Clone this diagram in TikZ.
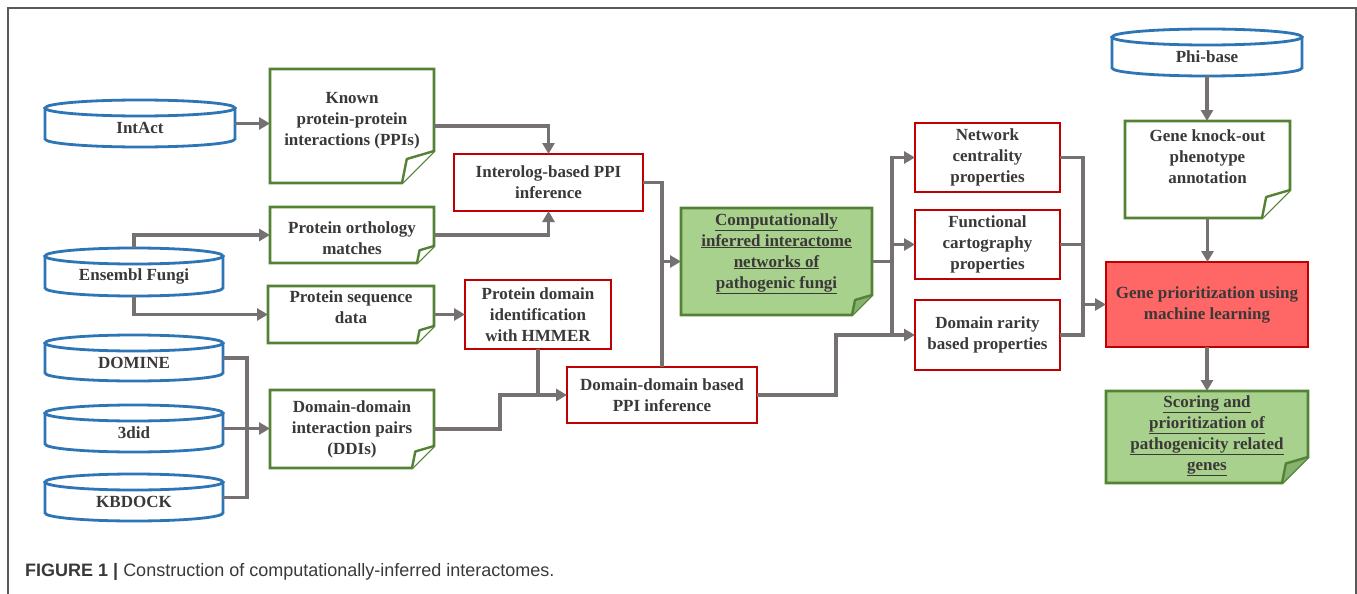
\documentclass[tikz,border=0pt]{standalone}
\usepackage{fontspec}
\setmainfont{Liberation Serif}
\setsansfont{Liberation Sans}
\usetikzlibrary{arrows.meta,calc}
\definecolor{cblue}{HTML}{2E75B6}
\definecolor{cgreen}{HTML}{548235}
\definecolor{cred}{HTML}{C00000}
\definecolor{redfill}{HTML}{FF6666}
\definecolor{greenfill}{HTML}{A9D18E}
\definecolor{foldgreen}{HTML}{86B26F}
\definecolor{cline}{HTML}{767171}
\definecolor{ctext}{HTML}{3B3838}
\definecolor{cframe}{HTML}{595959}
\tikzset{
  txt/.style={font=\bfseries\fontsize{17}{21}\selectfont, text=ctext, align=center, inner sep=0pt},
  conn/.style={draw=cline, line width=3.5pt, line join=miter},
  arr/.style={conn, -{Triangle[length=11pt,width=12pt]}},
  shp/.style={inner sep=0pt, outer sep=0pt},
}
% name x1 y1 x2 y2 fill text
\newcommand\redbox[7]{%
  \node[shp, draw=cred, fill=#6, line width=2.8pt, minimum width={#4-#2}, minimum height={#5-#3}] (#1) at ({(#2+#4)/2},{(#3+#5)/2}) {};
  \node[txt] (#1-t) at (#1) {#7};}
% name x1 y1 x2 y2 text
\newcommand\cyl[6]{%
  \node[shp, minimum width={#4-#2}, minimum height={#5-#3}] (#1) at ({(#2+#4)/2},{(#3+#5)/2}) {};
  \draw[cblue, line width=2.8pt, fill=white] (#2,#3+8) -- (#2,#5-8) arc[start angle=180, end angle=360, x radius={(#4-#2)/2*1pt}, y radius=8pt] -- (#4,#3+8);
  \draw[cblue, line width=2.8pt, fill=white] ({(#2+#4)/2},#3+8) ellipse[x radius={(#4-#2)/2*1pt}, y radius=8pt];
  \node[txt] (#1-t) at ($(#1)+(0,4.5)$) {#6};}
% name x1 y1 x2 y2 fold fill foldfill
\newcommand\notebox[8]{%
  \node[shp, minimum width={#4-#2}, minimum height={#5-#3}] (#1) at ({(#2+#4)/2},{(#3+#5)/2}) {};
  \draw[cgreen, line width=2.8pt, fill=#7] (#2,#3) -- (#4,#3) -- (#4,#5-#6) -- (#4-#6,#5) -- (#2,#5) -- cycle;
  \draw[cgreen, line width=2.4pt, fill=#8, line join=round] (#4,#5-#6) -- (#4-0.85*#6,#5-0.75*#6) -- (#4-#6,#5);}
\begin{document}
\begin{tikzpicture}[x=1pt,y=-1pt]
\useasboundingbox (0,0) rectangle (1357,594);
\draw[cframe, line width=1.2pt] (8,594) -- (8,8) -- (1356,8) -- (1356,594);

% databases
\cyl{intact}{45}{100}{235}{147}{IntAct}
\cyl{ensembl}{45}{248}{223}{296}{Ensembl Fungi}
\cyl{domine}{45}{335}{223}{381}{DOMINE}
\cyl{tdid}{45}{405}{223}{452}{3did}
\cyl{kbdock}{45}{474}{223}{521}{KBDOCK}
\cyl{phibase}{1112}{29}{1302}{76}{Phi-base}

% notes
\notebox{known}{270}{69}{434}{183}{32}{white}{white}
\node[txt] (known-t) at ($(known)+(0,-5)$) {Known\\protein-protein\\interactions (PPIs)};
\notebox{ortho}{270}{207}{434}{263}{17}{white}{white}
\node[txt] (ortho-t) at ($(ortho)+(0,3)$) {Protein orthology\\matches};
\notebox{protseq}{268}{286}{434}{343}{17}{white}{white}
\node[txt] (protseq-t) at ($(protseq)+(0,-7)$) {Protein sequence\\data};
\notebox{ddi}{270}{390}{434}{468}{22}{white}{white}
\node[txt] (ddi-t) at (ddi) {Domain-domain\\interaction pairs\\(DDIs)};
\notebox{comp}{681}{208}{872}{315}{20}{greenfill}{foldgreen}
\node[txt] (comp-t) at ($(comp)+(0,-8)$) {\underline{Computationally}\\\underline{inferred interactome}\\\underline{networks of}\\\underline{pathogenic fungi}};
\notebox{knock}{1125}{121}{1290}{218}{28}{white}{white}
\node[txt] (knock-t) at ($(knock)+(0,-12.5)$) {Gene knock-out\\phenotype\\annotation};
\notebox{scoring}{1106}{391}{1308}{483}{26}{greenfill}{foldgreen}
\node[txt] (scoring-t) at ($(scoring)+(0,-1)$) {\underline{Scoring and}\\\underline{prioritization of}\\\underline{pathogenicity related}\\\underline{genes}};

% red boxes
\redbox{interolog}{454}{154}{643}{211}{white}{Interolog-based PPI\\inference}
\redbox{hmmer}{465}{280}{611}{349}{white}{Protein domain\\identification\\with HMMER}
\redbox{ddppi}{567}{367}{757}{423}{white}{Domain-domain based\\PPI inference}
\redbox{network}{915}{123}{1060}{192}{white}{Network\\centrality\\properties}
\redbox{funct}{915}{210}{1060}{279}{white}{Functional\\cartography\\properties}
\redbox{rarity}{915}{300}{1060}{370}{white}{Domain rarity\\based properties}
\redbox{gene}{1106}{262}{1308}{347}{redfill}{Gene prioritization using\\machine learning}

% junction coordinates
\coordinate (j1) at (247,0);
\coordinate (j2) at (500,0);
\coordinate (j3) at (892,0);
\coordinate (j4) at (836,0);
\coordinate (j5) at (1083,0);

% connectors
\draw[arr] (intact.east) -- (intact.east -| known.west);
\draw[arr] (known.east) -| (interolog.north);
\draw[arr] (ortho.east) -| (interolog.south);
\draw[arr] (ensembl.north) |- (ortho.west);
\draw[arr] (ensembl.south) |- (protseq.west);
\draw[arr] (protseq.east) -- (protseq.east -| hmmer.west);
\draw[conn] (domine.east) -| (j1 |- kbdock.east) -- (kbdock.east);
\draw[arr] (tdid.east) -- (tdid.east -| ddi.west);
\draw[arr] (ddi.east) -| (j2 |- ddppi.west) -- (ddppi.west);
\draw[conn] (hmmer.south) -- (hmmer.south |- ddppi.west);
\draw[conn] (interolog.east) -| (ddppi.north);
\draw[arr] (ddppi.north |- comp.west) -- (comp.west);
\draw[conn] (comp.east) -- (comp.east -| j3);
\draw[arr] (j3 |- rarity.west) |- (network.west);
\draw[arr] (j3 |- funct.west) -- (funct.west);
\draw[arr] (ddppi.east) -| (j4 |- rarity.west) -- (rarity.west);
\draw[conn] (network.east) -| (j5 |- rarity.east) -- (rarity.east);
\draw[conn] (funct.east) -- (funct.east -| j5);
\draw[arr] (j5 |- gene.west) -- (gene.west);
\draw[arr] (phibase.south) -- (phibase.south |- knock.north);
\draw[arr] (knock.south) -- (knock.south |- gene.north);
\draw[arr] (gene.south) -- (gene.south |- scoring.north);

% caption
\node[anchor=west, inner sep=0pt, text=ctext, font=\sffamily\fontsize{18}{18}\selectfont] (caption) at (25,572) {\textbf{FIGURE 1 |} Construction of computationally-inferred interactomes.};
\end{tikzpicture}
\end{document}
